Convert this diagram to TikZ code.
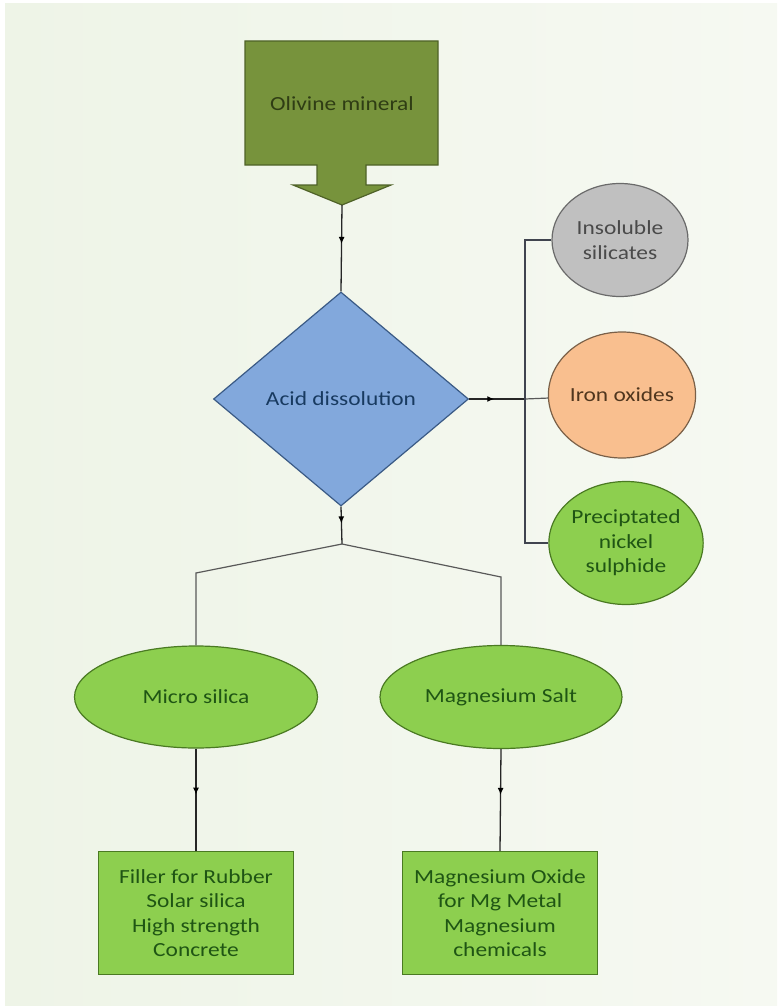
\documentclass[tikz,border=0pt]{standalone}
\usepackage{fontspec}
\setmainfont{Carlito}[FakeStretch=1.17]
\usepackage{tikz}
\usetikzlibrary{
  positioning,
  arrows.meta,
  shapes.geometric,
  decorations.markings
}
\usepackage{xcolor}
\definecolor{olivefill}{HTML}{77933C}
\definecolor{olivedraw}{HTML}{4F6228}
\definecolor{olivetext}{HTML}{2F3D14}
\definecolor{acidfill}{HTML}{82A8DC}
\definecolor{aciddraw}{HTML}{3A5A85}
\definecolor{acidtext}{HTML}{183A60}
\definecolor{greyfill}{HTML}{C0C0C0}
\definecolor{greydraw}{HTML}{6A6A6A}
\definecolor{greytext}{HTML}{4A4A4A}
\definecolor{ironfill}{HTML}{F9BF8F}
\definecolor{irondraw}{HTML}{7A6048}
\definecolor{irontext}{HTML}{50361E}
\definecolor{leaffill}{HTML}{8DCF4F}
\definecolor{leafdraw}{HTML}{4A7A22}
\definecolor{leaftext}{HTML}{1F5514}
\definecolor{bgleft}{HTML}{EEF4E7}
\definecolor{bgmid}{HTML}{FAFBF8}
\definecolor{bgright}{HTML}{F6F9F2}
\definecolor{brackline}{HTML}{40444F}

\begin{document}
\begin{tikzpicture}[
  x=1pt, y=-1pt,
  lbl/.style={font=\fontsize{20}{24.5}\selectfont, align=center, inner sep=0pt},
  blob/.style={ellipse, draw, line width=1.2pt, lbl},
  leaf/.style={blob, fill=leaffill, draw=leafdraw, text=leaftext},
  product/.style={rectangle, draw=leafdraw, fill=leaffill, line width=1.2pt,
                  lbl, text=leaftext, minimum width=195pt, minimum height=123pt},
  link/.style={line width=1.3pt, draw=black!85},
  midarrow/.style={link, decoration={markings,
      mark=at position 0.45 with {\arrow[black]{Latex[length=7pt,width=6pt]}}},
      postaction={decorate}},
  bracket/.style={line width=1.2pt, draw=brackline},
  branch/.style={line width=1.2pt, draw=black!65},
]
  % Background
  \fill[white] (0,0) rectangle (777,1006);
  \shade[left color=bgleft, middle color=bgmid, right color=bgright]
    (5,4) rectangle (777,1006);
  \useasboundingbox (0,0) rectangle (777,1006);

  % Input: down arrow callout
  \filldraw[fill=olivefill, draw=olivedraw, line width=1.2pt]
    (245,41) -- (438,41) -- (438,165) -- (366,165) -- (366,185) -- (391,185)
    -- (342,205) -- (293,185) -- (317,185) -- (317,165) -- (245,165) -- cycle;
  \node[lbl, text=olivetext] (olivine) at (342,104) {Olivine mineral};
  \coordinate (olivtip) at (342,205);

  % Process step
  \node[diamond, draw=aciddraw, fill=acidfill, line width=1.2pt, lbl,
        text=acidtext, minimum width=255pt, minimum height=214pt]
        (acid) at (341,399) {Acid dissolution};

  % By-products on the right
  \node[blob, fill=greyfill, draw=greydraw, text=greytext,
        minimum width=136pt, minimum height=113pt]
        (insol) at (620,240) {Insoluble\\silicates};
  \node[blob, fill=ironfill, draw=irondraw, text=irontext,
        minimum width=145pt, minimum height=126pt]
        (iron) at (622,395) {Iron oxides};
  \node[leaf, minimum width=147pt, minimum height=123pt]
        (nickel) at (626,543) {Preciptated\\nickel\\sulphide};

  % Main products
  \node[leaf, minimum width=243pt, minimum height=102pt]
        (silica) at (196,697) {Micro silica};
  \node[leaf, minimum width=242pt, minimum height=103pt]
        (salt) at (501,697) {Magnesium Salt};

  % Applications
  \node[product] (filler) at (196,913)
        {Filler for Rubber\\Solar silica\\High strength\\Concrete};
  \node[product] (mgoxide) at (500,913)
        {Magnesium Oxide\\for Mg Metal\\Magnesium\\chemicals};

  % Junction points
  \coordinate (brk) at (525,399);
  \coordinate (split) at (342,544);
  \coordinate (lbend) at (196,573);
  \coordinate (rbend) at (501,577);

  % Connectors
  \draw[midarrow] (olivtip) -- (acid.north);
  \draw[midarrow] (acid.east) -- (brk);
  \draw[branch] (brk) -- (iron);
  \draw[bracket] (insol.west) -| (brk) |- (nickel.west);
  \draw[midarrow] (acid.south) -- (split);
  \draw[branch] (split) -- (lbend) -- (silica.north);
  \draw[branch] (split) -- (rbend) -- (salt.north);
  \draw[midarrow] (silica.south) -- (filler.north);
  \draw[midarrow] (salt.south) -- (mgoxide.north);

\end{tikzpicture}
\end{document}
